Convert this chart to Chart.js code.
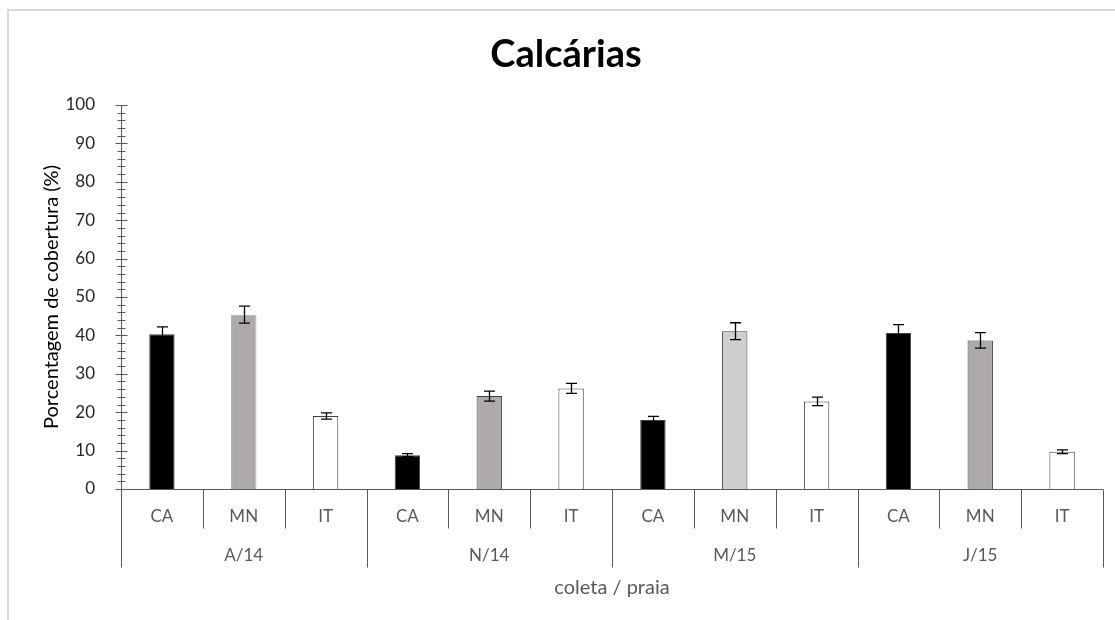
<!DOCTYPE html>
<html>
<head>
<meta charset="utf-8">
<title>Calcárias</title>
<script src="https://cdn.jsdelivr.net/npm/chart.js@4/dist/chart.umd.min.js"></script>
<style>
  html, body { margin: 0; padding: 0; background: #ffffff; }
  #wrap { width: 1115px; height: 620px; position: relative; }
</style>
</head>
<body>
<div id="wrap"><canvas id="chart" width="1115" height="620"></canvas></div>
<script>
// Sampling campaigns (outer axis level) and beaches (inner axis level)
const collections = ['A/14', 'N/14', 'M/15', 'J/15'];
const beaches = ['CA', 'MN', 'IT'];

// Mean cover (%) per campaign, in beach order CA, MN, IT
const coverA14 = [40.3, 45.4, 19.0];
const coverN14 = [8.8, 24.2, 26.2];
const coverM15 = [18.0, 41.1, 22.8];
const coverJ15 = [40.6, 38.7, 9.7];

// Standard error per campaign, same order
const errA14 = [1.9, 2.2, 0.8];
const errN14 = [0.4, 1.3, 1.3];
const errM15 = [0.9, 2.2, 1.1];
const errJ15 = [2.2, 2.0, 0.5];

// Y axis tick values
const yTicks = [0, 10, 20, 30, 40, 50, 60, 70, 80, 90, 100];

const FONT = 'Lato, "Open Sans", sans-serif';

const coverRows = [coverA14, coverN14, coverM15, coverJ15];
const errRows = [errA14, errN14, errM15, errJ15];
const labels = [];
const cover = [];
const errors = [];
collections.forEach((c, gi) => {
  beaches.forEach((b, bi) => {
    labels.push(b);
    cover.push(coverRows[gi][bi]);
    errors.push(errRows[gi][bi]);
  });
});

// Fill per bar: CA black, MN grey (lighter in M/15), IT white
const fills = labels.map((b, i) => {
  if (b === 'CA') return '#000000';
  if (b === 'MN') return Math.floor(i / 3) === 2 ? '#d0cece' : '#aeaaaa';
  return '#ffffff';
});
const borders = labels.map((b, i) => (i === 1 ? '#aeaaaa' : '#404040'));

const AXIS = '#595959';

const decor = {
  id: 'decor',
  beforeDraw(chart) {
    const ctx = chart.ctx;
    ctx.save();
    ctx.fillStyle = '#d9d9d9';
    ctx.fillRect(7, 9, 2, 620);
    ctx.fillRect(7, 9, 1115, 2);
    ctx.restore();
  },
  afterDatasetsDraw(chart) {
    const ctx = chart.ctx;
    const x = chart.scales.x;
    const y = chart.scales.y;
    const area = chart.chartArea;
    ctx.save();

    // Error bars
    const meta = chart.getDatasetMeta(0);
    ctx.strokeStyle = '#000000';
    ctx.lineWidth = 1.3;
    meta.data.forEach((bar, i) => {
      const top = y.getPixelForValue(cover[i] + errors[i]);
      const bot = y.getPixelForValue(cover[i] - errors[i]);
      const cx = Math.round(bar.x) + 0.5;
      ctx.beginPath();
      ctx.moveTo(cx, top);
      ctx.lineTo(cx, bot);
      ctx.moveTo(cx - 5.5, top);
      ctx.lineTo(cx + 5.5, top);
      ctx.moveTo(cx - 5.5, bot);
      ctx.lineTo(cx + 5.5, bot);
      ctx.stroke();
    });

    // Y axis line and tick marks (major every 10, minor every 2)
    ctx.strokeStyle = AXIS;
    ctx.lineWidth = 1;
    const ax = Math.round(area.left) + 0.5;
    ctx.beginPath();
    ctx.moveTo(ax, y.getPixelForValue(100));
    ctx.lineTo(ax, y.getPixelForValue(0));
    for (let v = 0; v <= 100; v += 2) {
      const py = Math.round(y.getPixelForValue(v)) + 0.5;
      if (v % 10 === 0) {
        ctx.moveTo(ax - 6, py);
        ctx.lineTo(ax + 6, py);
      } else {
        ctx.moveTo(ax - 4, py);
        ctx.lineTo(ax + 4, py);
      }
    }
    ctx.stroke();

    // X axis line and two-level category dividers
    const base = Math.round(y.getPixelForValue(0)) + 0.5;
    ctx.beginPath();
    ctx.moveTo(area.left, base);
    ctx.lineTo(area.right, base);
    const n = labels.length;
    const step = (x.getPixelForValue(1) - x.getPixelForValue(0));
    for (let i = 0; i <= n; i++) {
      const px = Math.round(x.getPixelForValue(i) - step / 2) + 0.5;
      const len = i % 3 === 0 ? 78 : 39;
      ctx.moveTo(px, base);
      ctx.lineTo(px, base + len);
    }
    ctx.stroke();

    // Category labels
    ctx.fillStyle = '#595959';
    ctx.textAlign = 'center';
    ctx.textBaseline = 'middle';
    ctx.font = '17px ' + FONT;
    labels.forEach((l, i) => {
      ctx.fillText(l, x.getPixelForValue(i), base + 27);
    });
    collections.forEach((c, gi) => {
      ctx.fillText(c, x.getPixelForValue(gi * 3 + 1), base + 66);
    });
    ctx.font = '20px ' + FONT;
    ctx.fillText('coleta / praia', (area.left + area.right) / 2, base + 98);

    ctx.restore();
  }
};

new Chart(document.getElementById('chart'), {
  type: 'bar',
  data: {
    labels: labels,
    datasets: [{
      data: cover,
      backgroundColor: fills,
      borderColor: borders,
      borderWidth: 1,
      barPercentage: 0.31,
      categoryPercentage: 1.0
    }]
  },
  options: {
    responsive: false,
    animation: false,
    devicePixelRatio: 1,
    layout: { padding: { top: 105, right: 12, left: 0, bottom: 0 } },
    plugins: {
      legend: { display: false },
      tooltip: { enabled: false },
      title: { display: false }
    },
    scales: {
      x: {
        type: 'category',
        grid: { display: false },
        border: { display: false },
        ticks: { display: false },
        afterFit(s) { s.height = 131; }
      },
      y: {
        min: 0,
        max: 100,
        afterBuildTicks(s) { s.ticks = yTicks.map(v => ({ value: v })); },
        grid: { display: false },
        border: { display: false },
        ticks: {
          padding: 18,
          color: '#262626',
          font: { family: FONT, size: 17 }
        },
        title: {
          display: true,
          text: 'Porcentagem de cobertura (%)',
          color: '#000000',
          font: { family: FONT, size: 20 },
          padding: { top: 40, bottom: 0 }
        },
        afterFit(s) { s.width = 121; }
      }
    }
  },
  plugins: [decor, {
    id: 'heading',
    afterDraw(chart) {
      const ctx = chart.ctx;
      ctx.save();
      ctx.fillStyle = '#000000';
      ctx.font = 'bold 38px ' + FONT;
      ctx.textAlign = 'center';
      ctx.textBaseline = 'middle';
      ctx.fillText('Calcárias', 566, 55);
      ctx.restore();
    }
  }]
});
</script>
</body>
</html>
